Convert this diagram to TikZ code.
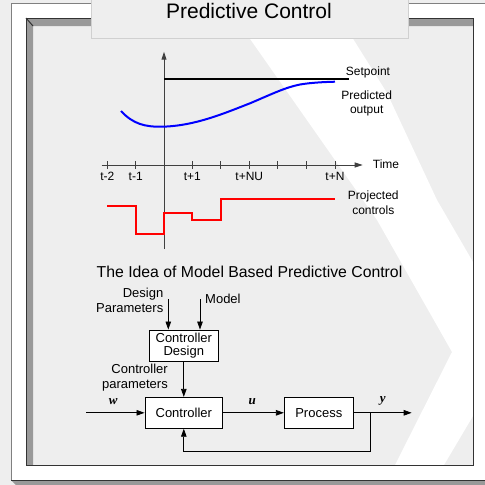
\documentclass[tikz,border=0pt]{standalone}
\usepackage{fontspec}
\setmainfont{Liberation Sans}
\newfontfamily\serifit{Liberation Serif}
\usetikzlibrary{arrows.meta}
\definecolor{bggray}{HTML}{EEEEEE}
\definecolor{bevel}{HTML}{999999}
\definecolor{framedark}{HTML}{333333}
\definecolor{titleborder}{HTML}{D0D0D0}
\definecolor{curveblue}{HTML}{0000FF}
\definecolor{ctrlred}{HTML}{FF0000}
\definecolor{axisgray}{HTML}{404040}
\tikzset{
  lbl/.style={inner sep=0pt, font=\fontsize{12}{14}\selectfont},
  blk/.style={draw=black, fill=white, line width=0.8pt, inner sep=0pt, font=\fontsize{13}{13.3}\selectfont, align=center},
  dlbl/.style={inner sep=0pt, font=\fontsize{13}{15.5}\selectfont},
  sig/.style={inner sep=0pt, font=\fontsize{13}{15}\selectfont\serifit\bfseries\itshape},
  arr/.style={line width=0.8pt, -{Triangle[length=8pt,width=5.5pt]}},
  axarr/.style={axisgray, line width=1pt, -{Triangle[length=8pt,width=5pt]}},
}
\begin{document}
\begin{tikzpicture}[x=1pt,y=-1pt]
\useasboundingbox (0,0) rectangle (485,485);
% page background
\fill[bggray] (0,0) rectangle (485,485);
% outer white sheet
\fill[white] (11,3) rectangle (485,480);
\draw[gray, line width=0.8pt] (11,480) -- (11,3) -- (485,3);
\fill[bevel] (11,480) -- (16,485) -- (485,485) -- (485,480) -- cycle;
\draw[framedark, line width=0.6pt] (11,480) -- (485,480);
% inner panel
\fill[bggray] (26,18) rectangle (473,465);
\fill[white] (241,26) -- (345,26) -- (387,93) -- (437,200) -- (473,262) -- (473,416)
  -- (444,465) -- (395,465) -- (452,352) -- (377,220) -- cycle;
\fill[bevel] (26,18) -- (473,18) -- (473,26) -- (33,26) -- (33,465) -- (26,465) -- cycle;
\draw[framedark, line width=1pt] (26,18) rectangle (473,465);
\draw[framedark, line width=1pt] (26,18) -- (33,26);
% title
\node[draw=titleborder, fill=bggray, line width=0.8pt, minimum width=317pt, minimum height=40pt, inner sep=0pt] (titlebox) at (249.5,18.5) {};
\node[inner sep=0pt, font=\fontsize{21}{24}\selectfont, anchor=base] (title) at (249,18) {Predictive Control};

% ---- chart ----
\coordinate (vbot) at (164,249);
\coordinate (vtop) at (164,51.7);
\draw[axarr] (vbot) -- (vtop);
\coordinate (tleft) at (101.7,165);
\coordinate (tright) at (362.7,165);
\draw[axarr] (tleft) -- (tright);
\foreach \x in {107.3,135.7,164,192.3,220.7,249.3,277.7,306,335}
  \draw[axisgray, line width=0.8pt] (\x,161) -- (\x,169);
\node[lbl] (tm2) at (107.3,176) {t-2};
\node[lbl] (tm1) at (135.7,176) {t-1};
\node[lbl] (tp1) at (192.3,176) {t+1};
\node[lbl] (tpnu) at (249.3,176) {t+NU};
\node[lbl] (tpn) at (335,176) {t+N};
\node[lbl, anchor=west] (timelbl) at (372.7,164) {Time};
% setpoint
\draw[black, line width=2pt] (164,79.3) -- (349,79.3);
\node[lbl] (setp) at (368,72.3) {Setpoint};
% predicted output
\draw[curveblue, line width=2pt] (121,111) .. controls (133,124) and (145,127) .. (162,126.7)
  .. controls (195,126) and (225,113) .. (250,103.3)
  .. controls (272,94) and (285,87.5) .. (300,84.5)
  .. controls (312,82.5) and (325,82) .. (335,81.7);
\node[lbl, align=center] (predlbl) at (366.7,103) {Predicted\\output};
% projected controls
\draw[ctrlred, line width=2pt] (107.3,205.7) -- (135.7,205.7) -- (135.7,234.3) -- (164,234.3)
  -- (164,213.3) -- (192.3,213.3) -- (192.3,220.3) -- (220.7,220.3) -- (220.7,199.3) -- (335,199.3);
\node[lbl, align=center, font=\fontsize{12}{15}\selectfont] (projlbl) at (373.3,202.5) {Projected\\controls};

% ---- block diagram ----
\node[inner sep=0pt, font=\fontsize{15.8}{18}\selectfont] (subtitle) at (249.5,271.5) {The Idea of Model Based Predictive Control};
\node[dlbl, align=right, anchor=east] (dparams) at (163.5,300.5) {Design\\Parameters};
\node[dlbl, anchor=west] (model) at (205,299.3) {Model};
\node[blk, minimum width=69pt, minimum height=31.7pt] (cdesign) at (183.8,345.8) {Controller\\Design};
\node[blk, minimum width=77.7pt, minimum height=31pt] (ctrl) at (183.8,412.8) {Controller};
\node[blk, minimum width=69pt, minimum height=31pt] (proc) at (318.8,412.8) {Process};
\node[dlbl, align=right, anchor=east] (cparams) at (168,377.5) {Controller\\parameters};
\coordinate (dpin) at (168.3,299.3);
\coordinate (mdin) at (200,299.3);
\draw[arr] (dpin) -- (dpin |- cdesign.north);
\draw[arr] (mdin) -- (mdin |- cdesign.north);
\draw[arr] (cdesign.south) -- (ctrl.north);
\coordinate (win) at (86,412.8);
\draw[arr] (win) -- (ctrl.west);
\draw[arr] (ctrl.east) -- (proc.west);
\coordinate (yout) at (411.7,412.8);
\draw[arr] (proc.east) -- (yout);
\coordinate (branch) at (370,412.8);
\coordinate (fbcorner) at (370,451.7);
\draw[arr] (branch) -- (fbcorner) -| (ctrl.south);
\node[sig] (wlbl) at (113.3,401.7) {w};
\node[sig] (ulbl) at (252.3,401.7) {u};
\node[sig] (ylbl) at (382.7,401) {y};
\end{tikzpicture}
\end{document}
